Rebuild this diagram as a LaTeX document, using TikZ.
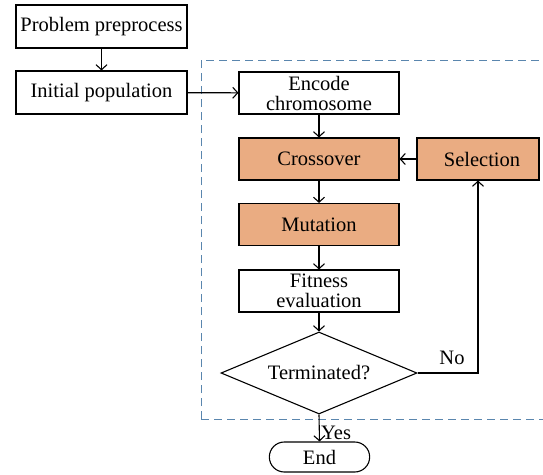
\documentclass[tikz,border=0pt]{standalone}
\usepackage{fontspec}
\setmainfont{Liberation Serif}
\usetikzlibrary{arrows.meta,shapes.geometric,shapes.misc}
\definecolor{boxfill}{HTML}{EAAC82}
\definecolor{dashblue}{HTML}{5A86AE}
\tikzset{
  every node/.style={font=\fontsize{20.5}{20}\selectfont},
  stepbox/.style={draw, line width=1.1pt, rectangle, minimum width=171pt, minimum height=43pt, inner sep=1pt, align=center},
  smallbox/.style={draw, line width=1.1pt, rectangle, minimum width=160pt, minimum height=42pt, inner sep=0pt, align=center},
  hot/.style={fill=boxfill},
  conn/.style={line width=1.1pt, -{Straight Barb[length=5pt,width=11pt,line width=1.1pt]}},
  plain/.style={line width=1.1pt}
}
\begin{document}
\begin{tikzpicture}[x=1pt,y=-1pt]
\useasboundingbox (0,0) rectangle (543,474);
\fill[white] (0,0) rectangle (543,474);
% dashed frame
\draw[dashblue, line width=1pt, dash pattern=on 8pt off 5pt] (201,419) -- (201,60) -- (545,60);
\draw[dashblue, line width=1pt, dash pattern=on 8pt off 5pt] (201,419) -- (545,419);
\node[stepbox] (prob) at (101.5,26.5) {Problem preprocess};
\node[stepbox] (init) at (101.5,92.5) {Initial population};
\node[smallbox] (enc) at (319,93) {Encode\\chromosome};
\node[smallbox, hot] (cross) at (319,159) {Crossover};
\node[draw, line width=1.1pt, hot, minimum width=122pt, minimum height=42pt] (sel) at (478,159) {\hspace{8pt}Selection};
\node[smallbox, hot] (mut) at (319,224.5) {Mutation};
\node[smallbox] (fit) at (319,291) {Fitness\\evaluation};
\node[draw, line width=1.1pt, diamond, aspect=2.39, inner sep=0pt, minimum width=196pt, minimum height=82pt] (term) at (319,373) {Terminated?};
\node[draw, line width=1.1pt, rounded rectangle, minimum width=107pt, minimum height=30pt] (end) at (319.5,457) {End};
\draw[conn] (prob) -- (init);
\draw[conn] (init) -- (enc);
\draw[conn] (enc) -- (cross);
\draw[conn] (cross) -- (mut);
\draw[conn] (mut) -- (fit);
\draw[conn] (fit) -- (term);
\draw[conn] (sel) -- (cross);
\coordinate (corner) at (478,373);
\draw[conn] (term.east) -- (corner) -- (sel.south);
\node at (452,358) {No};
\draw[conn] (term.south) -- (end.north);
\node[anchor=west, inner sep=1pt] at (320,433) {Yes};
\end{tikzpicture}
\end{document}
